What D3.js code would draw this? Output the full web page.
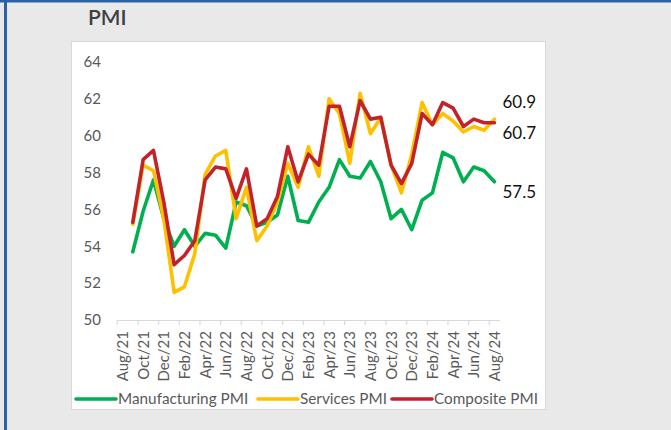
<!DOCTYPE html>
<html>
<head>
<meta charset="utf-8">
<script src="https://cdn.jsdelivr.net/npm/d3@7"></script>
<style>
  html, body { margin: 0; padding: 0; background: #e9e9e9; }
  svg { display: block; font-family: Lato, "Liberation Sans", sans-serif; }
</style>
</head>
<body>
<svg id="chart" width="671" height="430"></svg>
<script>
const categories = ["Aug/21","Sep/21","Oct/21","Nov/21","Dec/21","Jan/22","Feb/22","Mar/22","Apr/22","May/22","Jun/22","Jul/22","Aug/22","Sep/22","Oct/22","Nov/22","Dec/22","Jan/23","Feb/23","Mar/23","Apr/23","May/23","Jun/23","Jul/23","Aug/23","Sep/23","Oct/23","Nov/23","Dec/23","Jan/24","Feb/24","Mar/24","Apr/24","May/24","Jun/24","Jul/24","Aug/24"];
const manufacturing = [null,53.7,55.9,57.6,55.5,54.0,54.9,54.0,54.7,54.6,53.9,56.4,56.2,55.1,55.3,55.7,57.8,55.4,55.3,56.4,57.2,58.7,57.8,57.7,58.6,57.5,55.5,56.0,54.9,56.5,56.9,59.1,58.8,57.5,58.3,58.1,57.5];
const services = [null,55.2,58.4,58.1,55.5,51.5,51.8,53.6,57.9,58.9,59.2,55.5,57.2,54.3,55.1,56.4,58.5,57.2,59.4,57.8,62.0,61.2,58.5,62.3,60.1,61.0,58.4,56.9,59.0,61.8,60.6,61.2,60.8,60.2,60.5,60.3,60.9];
const composite = [null,55.3,58.7,59.2,56.4,53.0,53.5,54.3,57.6,58.3,58.2,56.6,58.2,55.1,55.5,56.7,59.4,57.5,59.0,58.4,61.6,61.6,59.4,61.9,60.9,61.0,58.4,57.4,58.5,61.2,60.6,61.8,61.5,60.5,60.9,60.7,60.7];
const seriesNames = ["Manufacturing PMI","Services PMI","Composite PMI"];
const yTicks = [50,52,54,56,58,60,62,64];
const title = "PMI";

const colors = ["#00b050", "#ffc000", "#c0232b"];
const svg = d3.select("#chart");

// frame
svg.append("rect").attr("x",0).attr("y",0).attr("width",671).attr("height",430).attr("fill","#e9e9e9");
svg.append("rect").attr("x",0).attr("y",0).attr("width",671).attr("height",2.5).attr("fill","#2a62a6");
svg.append("rect").attr("x",4).attr("y",0).attr("width",3).attr("height",430).attr("fill","#2a62a6");
svg.append("rect").attr("x",71.5).attr("y",41.5).attr("width",474).attr("height",368).attr("fill","#ffffff").attr("stroke","#d9d9d9").attr("stroke-width",1);

svg.append("text").attr("x",88).attr("y",25).attr("font-size",21).attr("font-weight",600).attr("fill","#404040").text(title);

const x = d3.scaleBand().domain(categories).range([117.3, 499.6]).padding(0);
const y = d3.scaleLinear().domain([50,64]).range([320,62]);
const cx = c => x(c) + x.bandwidth()/2;

// y axis labels
const ya = svg.append("g").attr("transform","translate(117,0)")
  .call(d3.axisLeft(y).tickValues(yTicks).tickSize(0).tickPadding(16).tickFormat(d3.format("d")));
ya.select(".domain").remove();
ya.selectAll("text").attr("font-size",15).attr("fill","#595959").attr("font-family","Lato, sans-serif");

// x axis
const xa = svg.append("g").attr("transform","translate(0,320)")
  .call(d3.axisBottom(x).tickValues(categories.filter((c,i)=>i%2===0)).tickSize(0));
xa.select(".domain").attr("stroke","#d9d9d9").attr("stroke-width",1.2);
xa.selectAll("text")
  .attr("font-size",15).attr("fill","#595959").attr("font-family","Lato, sans-serif")
  .attr("transform","rotate(-90)").attr("text-anchor","end")
  .attr("x",-11).attr("y",0).attr("dy","0.36em");
xa.selectAll(".tick").each(function(d){
  d3.select(this).append("line")
    .attr("x1",-x.bandwidth()/2).attr("x2",-x.bandwidth()/2)
    .attr("y1",0).attr("y2",5).attr("stroke","#d9d9d9").attr("stroke-width",1.2);
});

// lines
const series = [manufacturing, services, composite];
const line = d3.line().defined(d => d[1] != null).x(d => cx(d[0])).y(d => y(d[1]));
series.forEach((s,k) => {
  svg.append("path")
    .datum(categories.map((c,i)=>[c,s[i]]))
    .attr("fill","none").attr("stroke",colors[k]).attr("stroke-width",3.6)
    .attr("stroke-linejoin","round").attr("stroke-linecap","round")
    .attr("d", line);
});

// end labels
const last = categories.length-1;
const endOffsets = [10, -17, 10];
[0,1,2].forEach(k => {
  const v = series[k][last];
  svg.append("text").attr("x", cx(categories[last]) + 8).attr("y", y(v) + endOffsets[k])
    .attr("dy","0.35em").attr("font-size",17).attr("fill","#111").text(v.toFixed(1));
});

// legend
const legendX = [76, 258, 392];
seriesNames.forEach((n,k) => {
  const g = svg.append("g").attr("transform",`translate(${legendX[k]},399)`);
  g.append("line").attr("x1",0).attr("x2",40).attr("y1",0).attr("y2",0)
    .attr("stroke",colors[k]).attr("stroke-width",3.6).attr("stroke-linecap","round");
  g.append("text").attr("x",42).attr("y",0).attr("dy","0.35em").attr("font-size",15.3)
    .attr("fill","#595959").text(n);
});
</script>
</body>
</html>
